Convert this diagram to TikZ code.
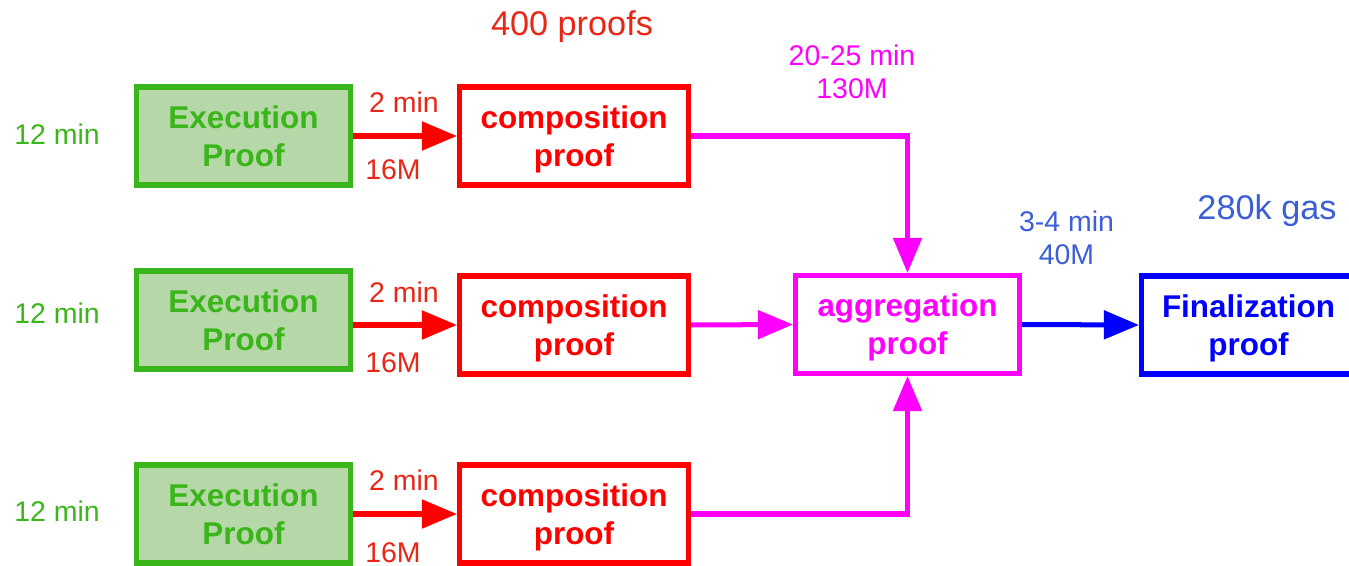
\documentclass[tikz,border=0pt]{standalone}
\usepackage{fontspec}
\setmainfont{Liberation Sans}
\usetikzlibrary{arrows.meta}
\definecolor{exgreen}{RGB}{58,182,26}
\definecolor{exfill}{RGB}{182,215,168}
\definecolor{cpred}{RGB}{255,0,0}
\definecolor{lbred}{RGB}{232,38,22}
\definecolor{agmag}{RGB}{255,0,255}
\definecolor{fnblue}{RGB}{0,0,255}
\definecolor{lbblue}{RGB}{60,94,214}
\begin{document}
\begin{tikzpicture}[line width=2.85pt,
  bx/.style={draw,align=center,inner sep=0pt,text depth=0pt,minimum height=1.96cm,font=\fontsize{17.9}{21.6}\selectfont\bfseries},
  ex/.style={bx,draw=exgreen,fill=exfill,text=exgreen,minimum width=4.28cm},
  cp/.style={bx,draw=cpred,text=cpred,minimum width=4.58cm},
  ag/.style={bx,draw=agmag,text=agmag,minimum width=4.48cm},
  fn/.style={bx,draw=fnblue,text=fnblue,minimum width=4.28cm},
  lbl/.style={inner sep=0pt,text depth=0pt,align=center,font=\fontsize{16.2}{18.8}\selectfont},
  big/.style={lbl,font=\fontsize{19.5}{22}\selectfont},
  arr/.style={-{Triangle[length=20pt,width=16pt]}}]
  \useasboundingbox (0,0) rectangle (26.98,-11.32);
  % execution and composition rows
  \node[ex] (e1) at (4.87,-2.72){Execution\\Proof};
  \node[ex] (e2) at (4.87,-6.40){Execution\\Proof};
  \node[ex] (e3) at (4.87,-10.28){Execution\\Proof};
  \node[cp] (c1) at (11.48,-2.72){composition\\proof};
  \node[cp] (c2) at (11.48,-6.50){composition\\proof};
  \node[cp] (c3) at (11.48,-10.28){composition\\proof};
  \node[ag] (ag) at (18.15,-6.49){aggregation\\proof};
  \node[fn] (fn) at (24.97,-6.50){Finalization\\proof};
  % arrows
  \draw[arr,cpred] (e1.east) -- (c1.west);
  \draw[arr,cpred] (e2.east |- c2.west) -- (c2.west);
  \draw[arr,cpred] (e3.east) -- (c3.west);
  \draw[arr,agmag] (c1.east) -| (ag.north);
  \draw[arr,agmag] (c2.east) -- (ag.west);
  \draw[arr,agmag] (c3.east) -| (ag.south);
  \draw[arr,fnblue] (ag.east) -- (fn.west);
  % timings and sizes
  \node[lbl,text=exgreen] (t1) at (1.14,-2.68){12 min};
  \node[lbl,text=exgreen] (t2) at (1.14,-6.26){12 min};
  \node[lbl,text=exgreen] (t3) at (1.14,-10.22){12 min};
  \node[lbl,text=lbred] (m1) at (8.08,-2.04){2 min};
  \node[lbl,text=lbred] (m2) at (8.08,-5.84){2 min};
  \node[lbl,text=lbred] (m3) at (8.08,-9.60){2 min};
  \node[lbl,text=lbred] (s1) at (7.86,-3.40){16M};
  \node[lbl,text=lbred] (s2) at (7.86,-7.26){16M};
  \node[lbl,text=lbred] (s3) at (7.86,-11.06){16M};
  \node[big,text=lbred] (np) at (11.44,-0.46){400 proofs};
  \node[lbl,text=agmag] (ta) at (17.04,-1.43){20-25 min\\130M};
  \node[lbl,text=lbblue] (tf) at (21.33,-4.75){3-4 min\\40M};
  \node[big,text=lbblue] (gas) at (25.34,-4.14){280k gas};
\end{tikzpicture}
\end{document}
